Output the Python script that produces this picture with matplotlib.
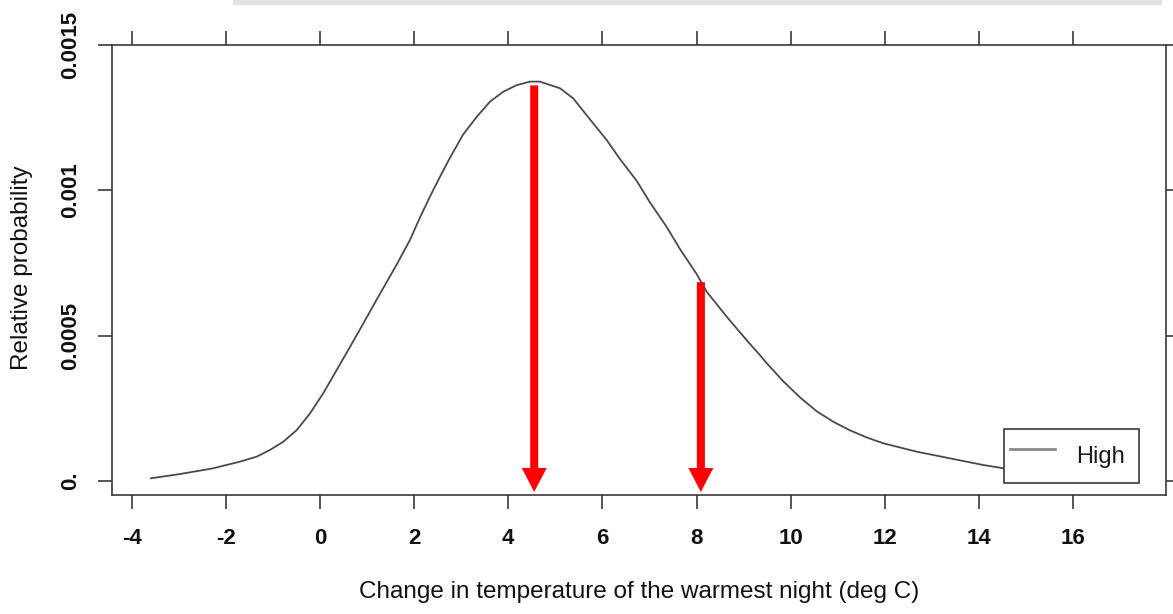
import matplotlib
matplotlib.use("Agg")
import matplotlib.pyplot as plt
from matplotlib.patches import Rectangle, FancyArrowPatch, ArrowStyle
from matplotlib.lines import Line2D

# ---- data ----
temp_change = [-3.59, -2.97, -2.27, -1.70, -1.345, -1.06, -0.78, -0.495, -0.21,
               0.07, 0.355, 0.64, 0.92, 1.20, 1.63, 1.91, 2.12, 2.34,
               2.55, 2.76, 3.04, 3.33, 3.61, 3.89, 4.18, 4.46, 4.67, 5.10,
               5.38, 5.73, 6.09, 6.37, 6.73, 7.01, 7.36, 7.65, 8.0, 8.21,
               8.64, 9.06, 9.35, 9.49, 9.84, 10.20, 10.55, 10.90, 11.26,
               11.61, 11.96, 12.67, 13.38, 14.09, 14.51, 15.5, 16.5, 17.1]
rel_prob = [0.0000093, 0.000024, 0.0000436, 0.0000665, 0.0000837, 0.000107,
            0.000135, 0.000175, 0.000233, 0.000302, 0.000382, 0.000462,
            0.000542, 0.000623, 0.000745, 0.000829, 0.000905,
            0.00098, 0.001047, 0.001112, 0.001192, 0.001253, 0.001305,
            0.001339, 0.001362, 0.001374, 0.001374, 0.001351, 0.001316,
            0.001245, 0.001173, 0.001108, 0.001032, 0.000958, 0.000875,
            0.000797, 0.000712, 0.000652, 0.000565, 0.000485, 0.000432,
            0.000405, 0.000343, 0.000287, 0.00024, 0.000204, 0.000174,
            0.00015, 0.00013, 0.000101, 0.000078, 0.000055, 0.000044,
            0.000028, 0.000018, 0.000014]
arrow_x = [4.55, 8.09]
arrow_top = [0.001361, 0.000684]
series_name = "High"
x_ticks = [-4, -2, 0, 2, 4, 6, 8, 10, 12, 14, 16]
y_ticks = [0.0, 0.0005, 0.001, 0.0015]
y_tick_labels = ["0.", "0.0005", "0.001", "0.0015"]
x_title = "Change in temperature of the warmest night (deg C)"
y_title = "Relative probability"

W, H = 1173, 614
fig = plt.figure(figsize=(W / 100, H / 100), dpi=100)
plt.rcParams['font.family'] = ['Liberation Sans', 'DejaVu Sans']

def fx(px):
    return px / W

def fy(py):
    return 1 - py / H

ax_l, ax_r, ax_t, ax_b = 112, 1166, 45, 495
ax = fig.add_axes([fx(ax_l), fy(ax_b), fx(ax_r) - fx(ax_l), (ax_b - ax_t) / H])

ax.set_xlim(-4.418, 17.97)
ax.set_ylim(-0.0000482, 0.0015)

spine_c = '#3a3a3a'
for s in ax.spines.values():
    s.set_color(spine_c)
    s.set_linewidth(1.2)

ax.plot(temp_change, rel_prob, color='#4a4a4a', lw=1.3, zorder=2)

ax.set_xticks(x_ticks)
ax.set_xticklabels([str(t) for t in x_ticks])
ax.set_yticks(y_ticks)
ax.set_yticklabels(y_tick_labels, rotation=90, va='center')

ax.tick_params(axis='both', direction='out', color=spine_c, width=1.2,
               labelsize=16, labelcolor='#111111')
ax.tick_params(axis='x', length=10, pad=14, top=True, labeltop=False)
ax.tick_params(axis='y', length=10, pad=12, right=True, labelright=False)
for lab in ax.get_xticklabels() + ax.get_yticklabels():
    lab.set_fontweight('bold')

# red arrows
y_bottom = -0.0000378
for xa, yt in zip(arrow_x, arrow_top):
    arr = FancyArrowPatch((xa, yt), (xa, y_bottom),
                          arrowstyle=ArrowStyle.Simple(head_length=17.3, head_width=18, tail_width=5.8),
                          mutation_scale=1, color='#ff0000', lw=0,
                          shrinkA=0, shrinkB=0, zorder=5, clip_on=False)
    ax.add_patch(arr)

# legend
handle = Line2D([], [], color='#8a8a8a', lw=2)
leg = ax.legend([handle], [series_name], loc='lower left',
                bbox_to_anchor=((1004 - ax_l) / (ax_r - ax_l), (ax_b - 483) / (ax_b - ax_t),
                                (1139 - 1004) / (ax_r - ax_l), (483 - 425) / (ax_b - ax_t)),
                mode='expand', borderaxespad=0, fancybox=False, framealpha=1,
                edgecolor=spine_c, prop={'size': 17, 'weight': 'normal'},
                handlelength=1.9, handleheight=2.4, handletextpad=0.9, borderpad=0.25)
leg.get_frame().set_linewidth(1.2)
for t in leg.get_texts():
    t.set_color('#1a1a1a')

# axis titles
fig.text(fx(639), fy(592), x_title, ha='center', va='center', fontsize=17.5, color='#111111')
fig.text(fx(22), fy(268), y_title, ha='center', va='center', rotation=90,
         fontsize=17.5, color='#111111')

# faint grey bar at top (cropped element of the original)
fig.patches.append(Rectangle((fx(233), fy(5)), fx(1162) - fx(233), 5 / H,
                             transform=fig.transFigure, color='#e2e2e2', lw=0))

fig.savefig('out.png', dpi=100)
